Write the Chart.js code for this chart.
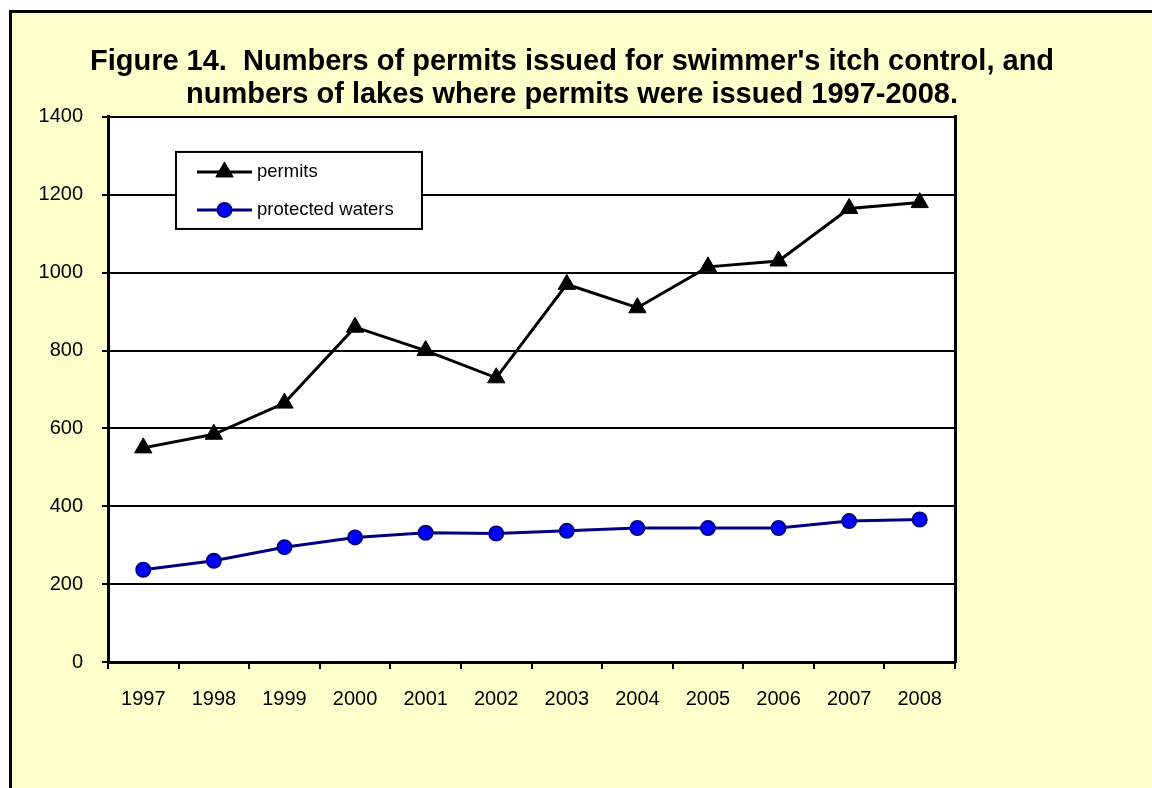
<!DOCTYPE html>
<html>
<head>
<meta charset="utf-8">
<title>Figure 14</title>
<script src="https://cdn.jsdelivr.net/npm/chart.js@4/dist/chart.umd.min.js"></script>
<style>
  html, body { margin: 0; padding: 0; width: 1152px; height: 788px; overflow: hidden; background: #fff; }
  #frame { position: absolute; left: 9px; top: 10px; width: 1200px; height: 840px; background: #FFFFCC; border: 3px solid #000; }
  #wrap { position: absolute; left: 0; top: 0; width: 1152px; height: 788px; }
</style>
</head>
<body>
<div id="frame"></div>
<div id="wrap"><canvas id="chart" width="1152" height="788"></canvas></div>
<script>
// values
const years = ['1997', '1998', '1999', '2000', '2001', '2002', '2003', '2004', '2005', '2006', '2007', '2008'];
const permits = [550, 585, 665, 860, 800, 730, 970, 910, 1015, 1030, 1165, 1180];
const protectedWaters = [237, 260, 295, 320, 332, 330, 337, 344, 344, 344, 362, 366];
const yMin = 0;
const yMax = 1400;
const yStep = 200;
const titleLines = [
  "Figure 14.  Numbers of permits issued for swimmer's itch control, and",
  "numbers of lakes where permits were issued 1997-2008."
];

const FONT = 'Arial, "Liberation Sans", Helvetica, sans-serif';

// white plot area (right edge of the frame is the y2 axis border)
const plotBg = {
  id: 'plotBg',
  beforeDraw(chart) {
    const { ctx, chartArea: a } = chart;
    ctx.save();
    ctx.fillStyle = '#fff';
    ctx.fillRect(a.left, a.top, a.right - a.left, a.bottom - a.top);
    ctx.restore();
  }
};

// boxed legend inside the plot, line sample with the marker in the middle
const boxLegend = {
  id: 'boxLegend',
  afterDraw(chart) {
    const { ctx, chartArea: a } = chart;
    const x0 = a.left + 68, y0 = a.top + 35, w = 246, h = 77;
    ctx.save();
    ctx.fillStyle = '#fff';
    ctx.fillRect(x0, y0, w, h);
    ctx.strokeStyle = '#000';
    ctx.lineWidth = 2;
    ctx.strokeRect(x0, y0, w, h);
    chart.data.datasets.forEach((ds, i) => {
      const cy = y0 + 20 + i * 38;
      const lx = x0 + 21, rx = x0 + 76;
      ctx.strokeStyle = ds.borderColor;
      ctx.lineWidth = ds.borderWidth;
      ctx.beginPath();
      ctx.moveTo(lx, cy);
      ctx.lineTo(rx, cy);
      ctx.stroke();
      ctx.fillStyle = ds.pointBackgroundColor;
      ctx.strokeStyle = ds.pointBorderColor;
      ctx.lineWidth = ds.pointBorderWidth;
      Chart.helpers.drawPoint(ctx, {
        pointStyle: ds.pointStyle, radius: ds.pointRadius, rotation: 0, borderWidth: ds.pointBorderWidth
      }, (lx + rx) / 2, cy);
      ctx.fillStyle = '#000';
      ctx.font = '18.5px ' + FONT;
      ctx.textBaseline = 'middle';
      ctx.textAlign = 'left';
      ctx.fillText(ds.label, rx + 5, cy);
    });
    ctx.restore();
  }
};

new Chart(document.getElementById('chart'), {
  type: 'line',
  data: {
    labels: years,
    datasets: [
      {
        label: 'permits',
        data: permits,
        borderColor: '#000000',
        borderWidth: 3,
        pointStyle: 'triangle',
        pointRadius: 10,
        pointBackgroundColor: '#000000',
        pointBorderColor: '#000000',
        pointBorderWidth: 1,
        tension: 0
      },
      {
        label: 'protected waters',
        data: protectedWaters,
        borderColor: '#000080',
        borderWidth: 3,
        pointStyle: 'circle',
        pointRadius: 7,
        pointBackgroundColor: '#0000FF',
        pointBorderColor: '#000080',
        pointBorderWidth: 2,
        tension: 0
      }
    ]
  },
  options: {
    responsive: false,
    devicePixelRatio: 1,
    animation: false,
    layout: { padding: { top: 46, left: 0, right: 8, bottom: 0 } },
    plugins: {
      legend: { display: false },
      tooltip: { enabled: false },
      title: {
        display: true,
        text: titleLines,
        color: '#000',
        font: { family: FONT, size: 29, weight: 'bold', lineHeight: 1.12 },
        padding: { top: 0, bottom: 6 }
      }
    },
    scales: {
      x: {
        type: 'category',
        offset: true,
        grid: { offset: true, drawOnChartArea: false, drawTicks: true, tickLength: 7, color: '#000', lineWidth: 2 },
        border: { display: true, color: '#000', width: 3 },
        ticks: { color: '#000', font: { family: FONT, size: 20 }, padding: 18, maxRotation: 0, autoSkip: false },
        afterFit(scale) { scale.height = 126; }
      },
      y: {
        min: yMin,
        max: yMax,
        ticks: { stepSize: yStep, color: '#000', font: { family: FONT, size: 20 }, padding: 19, callback: v => String(v) },
        grid: { color: '#000', lineWidth: 2, tickLength: 6, drawTicks: true },
        border: { display: true, color: '#000', width: 3 },
        afterFit(scale) { scale.width = 108; }
      },
      y2: {
        position: 'right',
        min: yMin,
        max: yMax,
        ticks: { display: false },
        grid: { drawOnChartArea: false, drawTicks: false },
        border: { display: true, color: '#000', width: 3 },
        afterFit(scale) { scale.width = 189; }
      }
    }
  },
  plugins: [plotBg, boxLegend]
});
</script>
</body>
</html>
